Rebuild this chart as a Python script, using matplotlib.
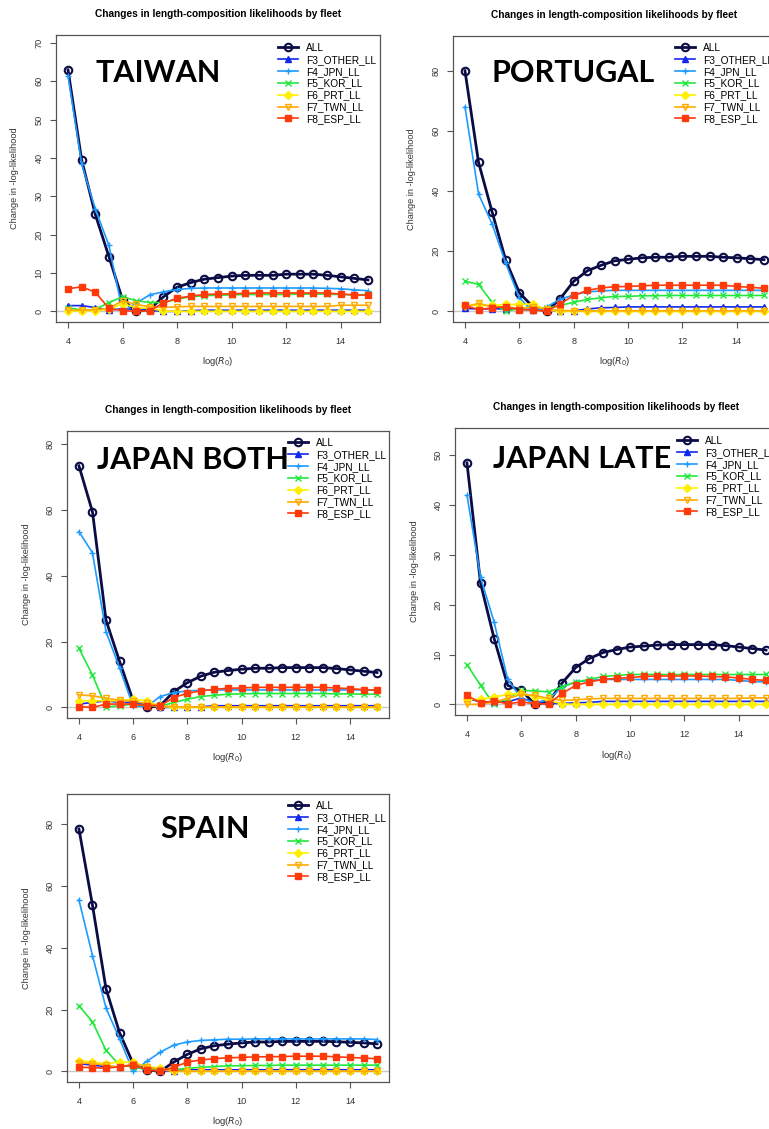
import matplotlib
matplotlib.use("Agg")
import matplotlib.pyplot as plt
from matplotlib.ticker import MultipleLocator

W, H = 769, 1129

log_r0 = [4.0, 4.5, 5.0, 5.5, 6.0, 6.5, 7.0, 7.5, 8.0, 8.5, 9.0, 9.5,
          10.0, 10.5, 11.0, 11.5, 12.0, 12.5, 13.0, 13.5, 14.0, 14.5, 15.0]

series_names = ["ALL", "F3_OTHER_LL", "F4_JPN_LL", "F5_KOR_LL",
                "F6_PRT_LL", "F7_TWN_LL", "F8_ESP_LL"]

# TAIWAN
taiwan_all = [63.0, 39.5, 25.3, 14.3, 3.0, 0.0, 0.6, 3.8, 6.3, 7.5, 8.4, 8.8,
              9.2, 9.4, 9.4, 9.4, 9.7, 9.7, 9.7, 9.4, 9.0, 8.6, 8.2]
taiwan_f3 = [1.5, 1.5, 1.0, 0.3, 0.7, 0.5, 0.3, 0.0, 0.0, 0.2, 0.3, 0.3,
             0.3, 0.3, 0.3, 0.3, 0.3, 0.3, 0.3, 0.3, 0.3, 0.3, 0.3]
taiwan_f4 = [61.5, 38.5, 26.7, 17.2, 0.0, 2.2, 4.3, 5.1, 5.7, 6.0, 6.1, 6.1,
             6.1, 6.1, 6.1, 6.1, 6.1, 6.1, 6.1, 6.0, 5.9, 5.6, 5.4]
taiwan_f5 = [1.0, 0.3, 0.5, 2.3, 3.8, 2.8, 2.3, 2.3, 3.2, 3.8, 4.1, 4.2,
             4.3, 4.4, 4.4, 4.4, 4.4, 4.5, 4.5, 4.5, 4.4, 4.3, 4.4]
taiwan_f6 = [0.0, 0.2, 0.2, 0.5, 2.0, 1.0, 0.8, 0.1, 0.0, 0.0, 0.0, 0.0,
             0.0, 0.0, 0.0, 0.0, 0.0, 0.0, 0.0, 0.0, 0.0, 0.0, 0.0]
taiwan_f7 = [0.3, 0.3, 0.4, 0.8, 2.8, 1.8, 1.2, 1.0, 1.2, 1.3, 1.3, 1.3,
             1.3, 1.3, 1.3, 1.3, 1.3, 1.3, 1.3, 1.3, 1.6, 1.6, 1.6]
taiwan_f8 = [5.9, 6.4, 5.0, 0.8, 0.2, 0.0, 0.2, 2.2, 3.4, 4.0, 4.4, 4.5,
             4.6, 4.7, 4.8, 4.8, 4.8, 4.8, 4.8, 4.8, 4.5, 4.3, 4.2]

# PORTUGAL
portugal_all = [80.0, 49.5, 33.0, 17.0, 6.2, 1.5, 0.0, 4.2, 10.0, 13.5, 15.3, 16.8,
                17.3, 17.8, 18.0, 18.0, 18.3, 18.3, 18.3, 18.0, 17.8, 17.5, 17.2]
portugal_f3 = [1.0, 0.8, 0.9, 0.8, 0.7, 0.6, 0.5, 0.0, 0.2, 0.8, 1.2, 1.3,
               1.5, 1.5, 1.5, 1.5, 1.5, 1.5, 1.5, 1.5, 1.5, 1.5, 1.5]
portugal_f4 = [68.0, 39.0, 29.0, 16.0, 4.5, 0.0, 1.5, 4.0, 5.5, 6.5, 6.8, 7.0,
               7.0, 7.0, 7.0, 7.0, 7.0, 7.0, 7.0, 7.0, 7.0, 7.0, 7.0]
portugal_f5 = [10.0, 9.0, 3.0, 0.0, 1.0, 1.5, 1.0, 2.0, 3.0, 4.0, 4.5, 5.0,
               5.0, 5.2, 5.2, 5.3, 5.3, 5.3, 5.3, 5.3, 5.3, 5.3, 5.3]
portugal_f6 = [2.0, 2.0, 2.0, 2.3, 2.3, 2.5, 0.5, 0.0, 0.0, 0.0, 0.0, 0.0,
               0.0, 0.0, 0.0, 0.0, 0.0, 0.0, 0.0, 0.0, 0.0, 0.0, 0.0]
portugal_f7 = [1.5, 2.7, 1.5, 1.5, 1.0, 1.5, 0.7, 0.3, 0.2, 0.2, 0.2, 0.2,
               0.2, 0.2, 0.2, 0.2, 0.2, 0.2, 0.2, 0.2, 0.2, 0.2, 0.2]
portugal_f8 = [2.0, 0.6, 1.2, 1.5, 0.6, 0.5, 0.0, 2.5, 5.3, 7.0, 7.8, 8.2,
               8.3, 8.5, 8.7, 8.7, 8.7, 8.7, 8.7, 8.7, 8.3, 8.0, 7.7]

# JAPAN BOTH
jboth_all = [73.5, 59.5, 26.5, 14.0, 2.0, 0.0, 0.5, 4.8, 7.5, 9.5, 10.7, 11.2,
             11.6, 11.9, 11.9, 12.1, 12.1, 12.1, 12.1, 11.8, 11.4, 11.0, 10.6]
jboth_f3 = [1.0, 1.5, 2.0, 1.5, 1.5, 0.8, 0.0, 0.0, 0.0, 0.2, 0.5, 0.5,
            0.5, 0.5, 0.5, 0.5, 0.5, 0.5, 0.5, 0.5, 0.5, 0.5, 0.5]
jboth_f4 = [53.5, 47.0, 23.0, 12.0, 0.3, 0.3, 3.3, 4.5, 5.0, 5.2, 5.3, 5.3,
            5.3, 5.3, 5.3, 5.3, 5.3, 5.3, 5.3, 5.3, 5.3, 5.3, 5.3]
jboth_f5 = [18.0, 9.8, 0.1, 0.5, 1.0, 0.5, 0.3, 1.5, 2.5, 3.3, 3.7, 4.0,
            4.1, 4.2, 4.2, 4.2, 4.2, 4.2, 4.2, 4.1, 4.1, 4.0, 4.0]
jboth_f6 = [2.0, 2.0, 2.0, 2.0, 2.5, 2.0, 0.3, 0.0, 0.0, 0.0, 0.0, 0.0,
            0.0, 0.0, 0.0, 0.0, 0.0, 0.0, 0.0, 0.0, 0.0, 0.0, 0.0]
jboth_f7 = [3.8, 3.5, 2.8, 2.2, 1.8, 1.2, 0.5, 0.2, 0.1, 0.1, 0.1, 0.1,
            0.1, 0.1, 0.1, 0.1, 0.1, 0.1, 0.1, 0.1, 0.1, 0.1, 0.1]
jboth_f8 = [0.2, 0.0, 1.0, 1.0, 1.0, 0.5, 0.5, 3.0, 4.3, 5.0, 5.5, 5.8,
            5.9, 6.1, 6.1, 6.1, 6.1, 6.1, 6.1, 5.9, 5.7, 5.4, 5.2]

# JAPAN LATE
jlate_all = [48.5, 24.3, 13.2, 3.8, 2.8, 0.0, 0.5, 4.3, 7.4, 9.2, 10.4, 11.0,
             11.5, 11.7, 11.9, 12.0, 12.0, 12.0, 12.0, 11.8, 11.5, 11.2, 10.9]
jlate_f3 = [1.2, 0.5, 0.5, 0.5, 1.3, 0.3, 0.2, 0.2, 0.3, 0.4, 0.6, 0.6,
            0.6, 0.6, 0.6, 0.6, 0.6, 0.6, 0.6, 0.6, 0.6, 0.6, 0.6]
jlate_f4 = [42.0, 25.5, 16.5, 5.0, 1.2, 0.3, 1.0, 3.5, 4.5, 4.8, 5.0, 5.0,
            5.0, 5.0, 5.0, 5.0, 5.0, 5.0, 5.0, 5.0, 4.8, 4.6, 4.5]
jlate_f5 = [8.0, 3.8, 0.0, 1.2, 2.8, 2.7, 2.5, 3.5, 4.5, 5.0, 5.6, 5.8,
            6.0, 6.0, 6.0, 6.0, 6.0, 6.0, 6.0, 6.0, 6.0, 6.0, 6.0]
jlate_f6 = [1.0, 1.0, 1.5, 2.0, 2.2, 1.5, 0.8, 0.1, 0.0, 0.0, 0.0, 0.0,
            0.0, 0.0, 0.0, 0.0, 0.0, 0.0, 0.0, 0.0, 0.0, 0.0, 0.0]
jlate_f7 = [0.0, 0.0, 0.5, 1.2, 2.0, 1.8, 1.2, 0.8, 0.9, 1.1, 1.2, 1.2,
            1.2, 1.2, 1.2, 1.2, 1.2, 1.2, 1.2, 1.2, 1.2, 1.3, 1.3]
jlate_f8 = [1.8, 0.3, 0.7, 0.1, 0.5, 0.1, 0.1, 2.2, 3.8, 4.5, 5.0, 5.2,
            5.4, 5.6, 5.7, 5.7, 5.7, 5.7, 5.6, 5.5, 5.3, 5.0, 4.8]

# SPAIN
spain_all = [78.5, 53.8, 26.7, 12.5, 2.5, 0.5, 0.0, 3.0, 5.5, 7.3, 8.3, 8.8,
             9.2, 9.5, 9.5, 9.7, 9.7, 9.7, 9.7, 9.6, 9.4, 9.2, 8.9]
spain_f3 = [2.5, 2.0, 1.5, 1.5, 2.0, 0.8, 0.1, 0.0, 0.5, 0.5, 0.5, 0.5,
            0.5, 0.5, 0.5, 0.5, 0.5, 0.5, 0.5, 0.5, 0.5, 0.5, 0.5]
spain_f4 = [55.5, 37.5, 20.5, 10.5, 0.0, 3.2, 6.2, 8.5, 9.5, 10.0, 10.2, 10.4,
            10.4, 10.5, 10.5, 10.5, 10.5, 10.5, 10.5, 10.5, 10.5, 10.5, 10.3]
spain_f5 = [21.3, 16.0, 6.8, 2.0, 1.5, 0.5, 0.3, 0.5, 1.0, 1.3, 1.5, 1.8,
            1.8, 1.9, 1.9, 2.0, 2.0, 2.0, 2.0, 2.0, 2.0, 2.0, 2.0]
spain_f6 = [3.5, 3.0, 2.5, 3.0, 3.0, 1.5, 1.0, 0.0, 0.0, 0.0, 0.0, 0.0,
            0.0, 0.0, 0.0, 0.0, 0.0, 0.0, 0.0, 0.0, 0.0, 0.0, 0.0]
spain_f7 = [2.8, 2.5, 2.0, 1.2, 2.5, 1.5, 0.5, 0.0, 0.0, 0.0, 0.0, 0.0,
            0.0, 0.0, 0.0, 0.0, 0.0, 0.0, 0.0, 0.0, 0.0, 0.0, 0.0]
spain_f8 = [1.3, 1.2, 1.0, 1.5, 2.0, 0.5, 0.0, 1.3, 3.0, 3.7, 4.1, 4.4,
            4.5, 4.7, 4.7, 4.8, 4.9, 4.9, 4.9, 4.7, 4.5, 4.3, 4.1]

panel_labels = ["TAIWAN", "PORTUGAL", "JAPAN BOTH", "JAPAN LATE", "SPAIN"]
panel_series = [
    [taiwan_all, taiwan_f3, taiwan_f4, taiwan_f5, taiwan_f6, taiwan_f7, taiwan_f8],
    [portugal_all, portugal_f3, portugal_f4, portugal_f5, portugal_f6, portugal_f7, portugal_f8],
    [jboth_all, jboth_f3, jboth_f4, jboth_f5, jboth_f6, jboth_f7, jboth_f8],
    [jlate_all, jlate_f3, jlate_f4, jlate_f5, jlate_f6, jlate_f7, jlate_f8],
    [spain_all, spain_f3, spain_f4, spain_f5, spain_f6, spain_f7, spain_f8],
]
y_tick_steps = [10, 20, 20, 10, 20]
show_title = [True, True, True, True, False]

# layout of the pasted panels, in pixels of the final image
axes_boxes = [(56, 35, 380, 322), (453, 36, 776, 322), (67, 431, 389, 718),
              (455, 428, 778, 715), (67, 794, 389, 1082)]
legend_anchors = [(278, 43), (675, 43), (288, 438), (677, 436), (288, 801)]
label_spots = [(95, 81.5), (492, 81.5), (97, 469), (493, 468), (160, 838)]

colors = ["#0b0b45", "#1428f0", "#1e9bff", "#22e83c", "#fff000", "#ffaa00", "#ff3a0a"]
markers = ["o", "^", "+", "x", "D", "v", "s"]
marker_filled = [False, True, True, True, True, False, True]

r_font = "Liberation Sans"
axis_grey = "#333333"

fig = plt.figure(figsize=(W / 100, H / 100), dpi=100)
fig.patch.set_facecolor("white")


def px_rect(left, top, right, bottom):
    return [left / W, 1 - bottom / H, (right - left) / W, (bottom - top) / H]


for i, series in enumerate(panel_series):
    left, top, right, bottom = axes_boxes[i]
    ax = fig.add_axes(px_rect(left, top, right, bottom))

    ax.axhline(0, color="#c8c8c8", lw=1.0, zorder=1)
    for j, values in enumerate(series):
        is_all = j == 0
        ax.plot(log_r0, values, color=colors[j], lw=2.0 if is_all else 1.2,
                marker=markers[j], markersize=5.4 if is_all else 4.2,
                markeredgewidth=1.5 if is_all else 1.0,
                markerfacecolor=colors[j] if marker_filled[j] else "none",
                label=series_names[j], zorder=2 + j)

    ymax = max(series[0]) * 1.1
    ax.set_xlim(4 - 0.04 * 11, 15 + 0.04 * 11)
    ax.set_ylim(-0.04 * ymax, ymax * 1.04)
    ax.xaxis.set_major_locator(MultipleLocator(2))
    ax.yaxis.set_major_locator(MultipleLocator(y_tick_steps[i]))

    for sp in ax.spines.values():
        sp.set_color("#555555")
        sp.set_linewidth(0.9)
    ax.tick_params(length=4, width=0.8, color="#555555", pad=5,
                   labelsize=6.6, labelcolor=axis_grey)
    ax.tick_params(axis="x", pad=6.5)
    for lab in ax.get_xticklabels() + ax.get_yticklabels():
        lab.set_fontfamily(r_font)
    for lab in ax.get_yticklabels():
        lab.set_rotation(90)
        lab.set_va("center")

    w_px = right - left
    h_px = bottom - top
    ax.set_xlabel(r"log($R_0$)", fontsize=6.8, color=axis_grey,
                  fontfamily=r_font, va="center")
    ax.xaxis.set_label_coords(0.5, -40 / h_px)
    ax.set_ylabel("Change in -log-likelihood", fontsize=6.6, color=axis_grey,
                  fontfamily=r_font, va="center")
    ax.yaxis.set_label_coords(-41 / w_px, 0.5)

    if show_title[i]:
        ax.set_title("Changes in length-composition likelihoods by fleet",
                     fontsize=7.3, fontweight="bold", fontfamily=r_font, pad=13)

    lx, ly = legend_anchors[i]
    ax.legend(loc="upper left", bbox_to_anchor=(lx / W, 1 - ly / H),
              bbox_transform=fig.transFigure, frameon=False, borderpad=0,
              borderaxespad=0, handlelength=2.0, handletextpad=0.8,
              labelspacing=0.18, numpoints=1,
              prop={"family": r_font, "size": 7.3})

    tx, ty = label_spots[i]
    fig.text(tx / W, 1 - ty / H, panel_labels[i], fontsize=22,
             fontweight="bold", fontfamily="Lato", color="black",
             ha="left", va="baseline", zorder=20)

fig.savefig("out.png", dpi=100)
